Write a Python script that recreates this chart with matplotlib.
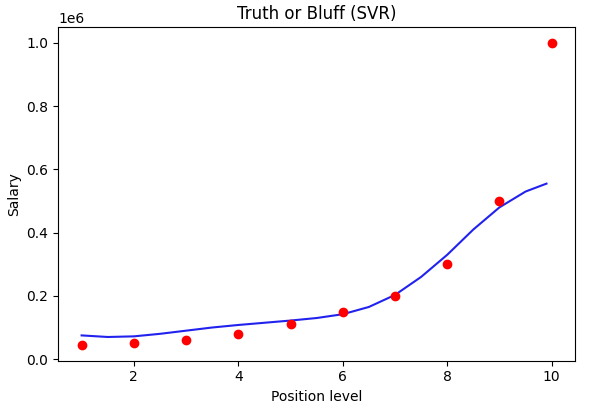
import matplotlib
matplotlib.use("Agg")
import matplotlib.pyplot as plt

levels = [1, 2, 3, 4, 5, 6, 7, 8, 9, 10]
salaries = [45000, 50000, 60000, 80000, 110000, 150000, 200000, 300000, 500000, 1000000]

curve_x = [1, 1.5, 2, 2.5, 3, 3.5, 4, 4.5, 5, 5.5, 6, 6.5, 7, 7.5, 8, 8.5, 9, 9.5, 9.9]
curve_y = [75000, 70000, 72000, 80000, 90000, 100000, 108000, 115000, 122000, 130000,
           142000, 165000, 203000, 260000, 330000, 410000, 480000, 530000, 555000]

fig = plt.figure(figsize=(5.93, 4.17), dpi=100)
ax = fig.add_axes([0.098, 0.135, 0.872, 0.8])
ax.scatter(levels, salaries, color='red', zorder=3)
ax.plot(curve_x, curve_y, color='#2222ee')
ax.set_title('Truth or Bluff (SVR)')
ax.set_xlabel('Position level')
ax.set_ylabel('Salary')
ax.set_ylim(-5000, 1050000)
fig.savefig('out.png')
